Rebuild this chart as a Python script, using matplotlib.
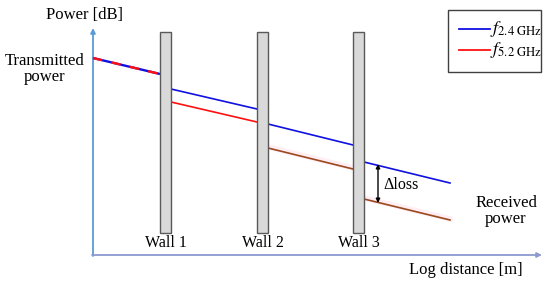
import matplotlib
matplotlib.use("Agg")
import matplotlib.pyplot as plt
from matplotlib.patches import Rectangle

plt.rcParams['font.family'] = ['Liberation Serif', 'DejaVu Serif']
plt.rcParams['mathtext.fontset'] = 'stix'

# Schematic data (pixel-like units: x = log distance, y = power, y grows downward)
wall_labels = ['Wall 1', 'Wall 2', 'Wall 3']
wall_left = [160, 257, 353]
wall_width = 11
wall_top, wall_bottom = 32, 233

seg_x0 = [93, 171, 268, 364]
seg_x1 = [160, 257, 353, 450]
blue_y0 = [58, 89, 124, 162]
blue_y1 = [74, 109, 145, 183]
red_y0 = [58, 102, 148, 199]
red_y1 = [74, 122, 169, 220]
red_colors = ['#FF1010', '#FF1010', '#9A4A1E', '#9A4A1E']

BLUE = '#1010E0'

fig = plt.figure(figsize=(5.5, 2.86), dpi=100)
ax = fig.add_axes([0, 0, 1, 1])
ax.set_xlim(0, 550)
ax.set_ylim(286, 0)
ax.axis('off')

# axes arrows
ax.annotate('', xy=(93, 28), xytext=(93, 256),
            arrowprops=dict(arrowstyle='-|>', color='#5B9BD5', lw=1.3, mutation_scale=7,
                            shrinkA=0, shrinkB=0))
ax.annotate('', xy=(542, 255), xytext=(92, 255),
            arrowprops=dict(arrowstyle='-|>', color='#8C9AD0', lw=1.3, mutation_scale=7,
                            shrinkA=0, shrinkB=0))

# lines
for i in range(len(seg_x0)):
    if i == 0:
        ax.plot([seg_x0[i], seg_x1[i]], [blue_y0[i], blue_y1[i]], color=BLUE, lw=1.7,
                solid_capstyle='butt', zorder=3)
        ax.plot([seg_x0[i], seg_x1[i]], [red_y0[i], red_y1[i]], color=red_colors[i], lw=1.7,
                dashes=(4, 4), zorder=4)
    else:
        if i >= 2:
            ax.plot([seg_x0[i], seg_x1[i]], [red_y0[i] - 1, red_y1[i] - 1], color='#FFEEF3',
                    lw=4, zorder=2)
        ax.plot([seg_x0[i], seg_x1[i]], [blue_y0[i], blue_y1[i]], color=BLUE, lw=1.2, zorder=3)
        ax.plot([seg_x0[i], seg_x1[i]], [red_y0[i], red_y1[i]], color=red_colors[i], lw=1.2,
                zorder=3)

# walls
for lab, xl in zip(wall_labels, wall_left):
    ax.add_patch(Rectangle((xl, wall_top), wall_width, wall_bottom - wall_top,
                           facecolor='#D9D9D9', edgecolor='#595959', lw=1.0, zorder=5))
    ax.text(xl + wall_width / 2, 243, lab, ha='center', va='center', fontsize=11.5)

# delta loss arrow
ax.annotate('', xy=(378, 164), xytext=(378, 203),
            arrowprops=dict(arrowstyle='<|-|>', color='black', lw=1.0, mutation_scale=6,
                            shrinkA=0, shrinkB=0))
ax.text(383, 185, 'Δloss', ha='left', va='center', fontsize=11.5)

# labels
ax.text(85, 15, 'Power [dB]', ha='center', va='center', fontsize=12)
ax.text(45, 69, 'Transmitted\npower', ha='center', va='center', fontsize=12, linespacing=1.05)
ax.text(506, 211, 'Received\npower', ha='center', va='center', fontsize=12, linespacing=1.05)
ax.text(466, 270, 'Log distance [m]', ha='center', va='center', fontsize=12)

# legend box
ax.add_patch(Rectangle((448, 10), 93, 62, facecolor='white', edgecolor='#404040', lw=1.0,
                       zorder=6))
ax.plot([459, 490], [29, 29], color=BLUE, lw=1.3, zorder=7)
ax.plot([459, 490], [50, 50], color='#FF1010', lw=1.3, zorder=7)
ax.text(490, 29, r'$f_{\mathrm{2.4\ GHz}}$', ha='left', va='center', fontsize=13, zorder=7)
ax.text(490, 50, r'$f_{\mathrm{5.2\ GHz}}$', ha='left', va='center', fontsize=13, zorder=7)

fig.savefig('out.png', dpi=100)
